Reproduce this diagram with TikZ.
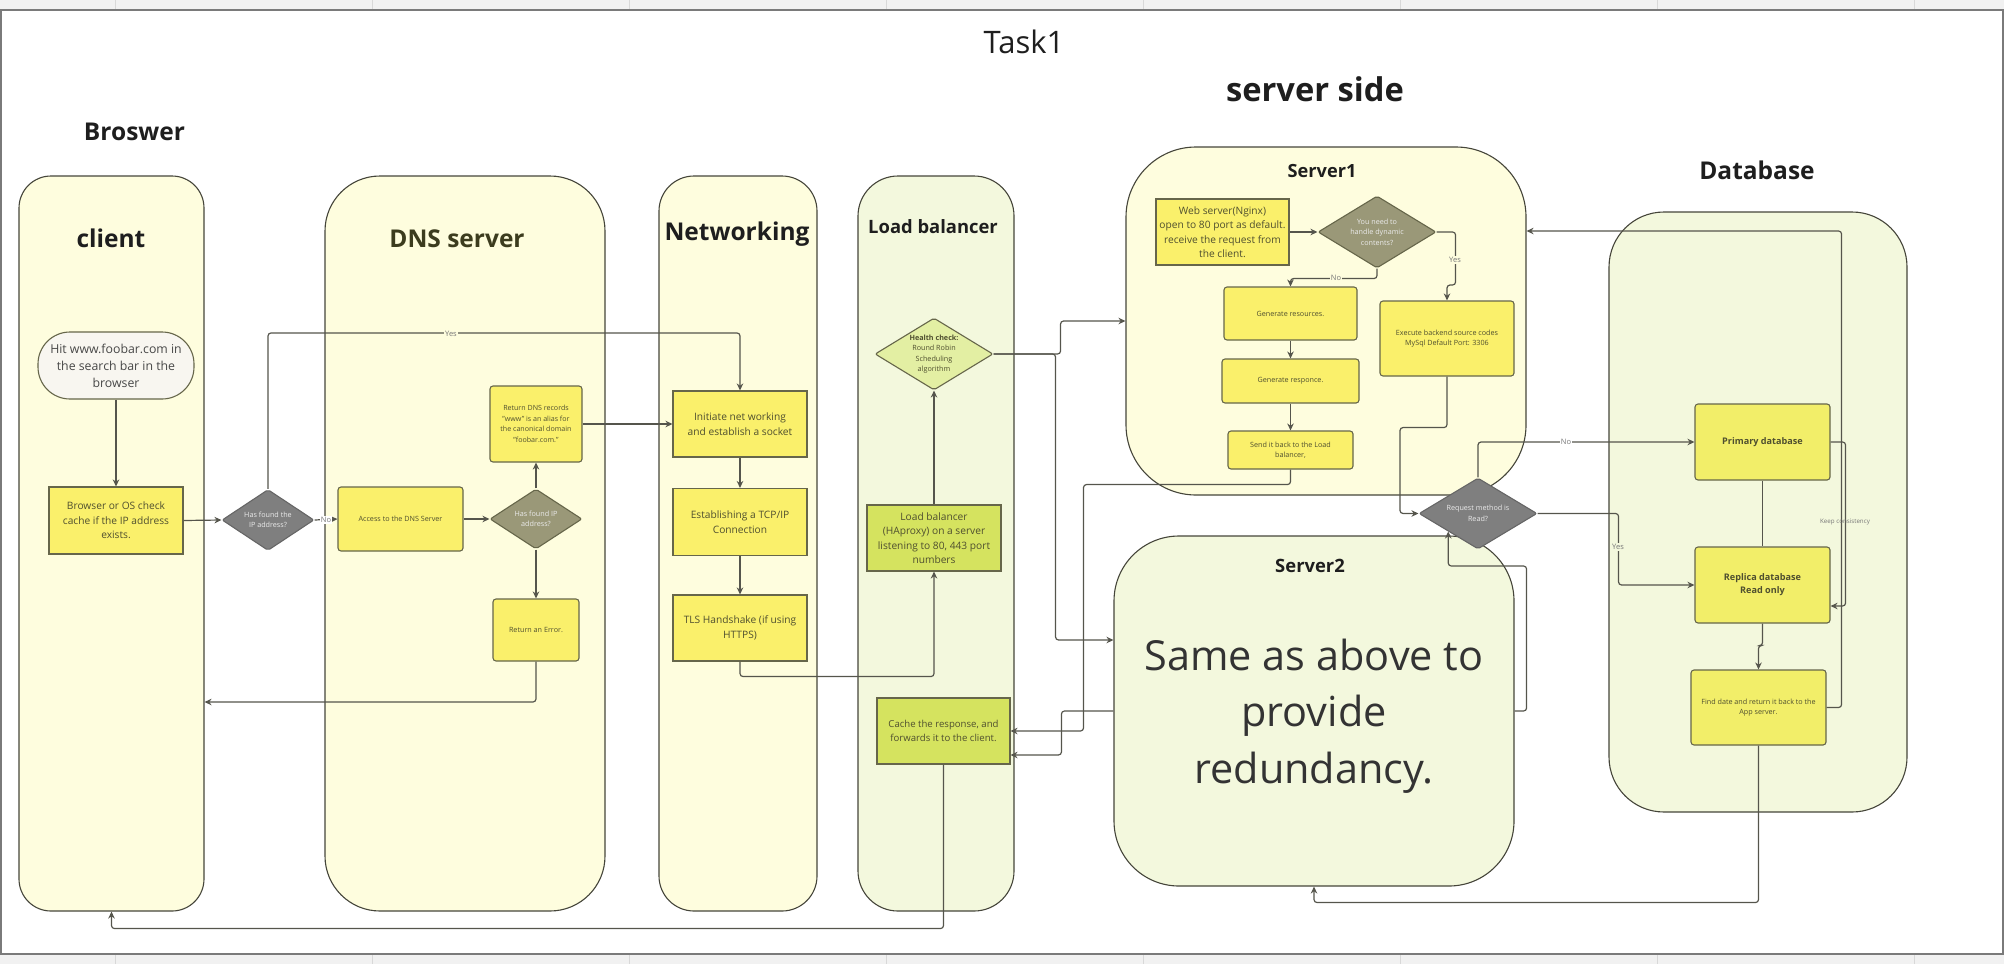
\documentclass[tikz,border=0pt]{standalone}
\usepackage{fontspec}
\setmainfont{Open Sans}
\usetikzlibrary{arrows.meta,shapes.geometric}
\definecolor{paley}{HTML}{FEFDDE}
\definecolor{paleg}{HTML}{F3F8DD}
\definecolor{ybox}{HTML}{FAF06B}
\definecolor{dbbox}{HTML}{F2EE69}
\definecolor{gbox}{HTML}{D5E35F}
\definecolor{hcbox}{HTML}{E3EFA3}
\definecolor{hitc}{HTML}{F8F6F0}
\definecolor{dgray}{HTML}{7F7F7F}
\definecolor{ogray}{HTML}{9A9878}
\definecolor{lanec}{HTML}{45453A}
\definecolor{boxc}{HTML}{66664A}
\definecolor{boxt}{HTML}{4F4F2F}
\definecolor{titc}{HTML}{1E1E1E}
\definecolor{dnst}{HTML}{3C3C1E}
\definecolor{arrc}{HTML}{55554C}
\definecolor{lblc}{HTML}{777777}
\definecolor{stripc}{HTML}{F1F1F1}
\definecolor{sepc}{HTML}{D8D8D8}
\definecolor{framec}{HTML}{7A7A7A}
\tikzset{
  lane/.style={draw=lanec, line width=1.1pt},
  ttl/.style={font=\bfseries\fontsize{24.5}{30}\selectfont, text=titc, inner sep=0pt, anchor=base},
  box/.style={draw=boxc, line width=1.1pt, fill=ybox, text=boxt, align=center, inner sep=1pt},
  rbox/.style={box, rounded corners=3pt},
  midtxt/.style={font=\fontsize{10.2}{14.4}\selectfont},
  smalltxt/.style={font=\fontsize{7.2}{10.5}\selectfont},
  dia/.style={diamond, draw=boxc, line width=1.1pt, inner sep=0pt, rounded corners=2pt},
  dtxt/.style={font=\fontsize{7.2}{10.5}\selectfont, text=white!92!black, align=center},
  arr/.style={draw=arrc, line width=1.2pt, -{Stealth[length=7pt,width=6.5pt]}, rounded corners=3pt},
  lnk/.style={draw=arrc, line width=1.2pt},
  lbl/.style={font=\fontsize{7.5}{9}\selectfont, text=lblc, inner sep=1pt},
}
\begin{document}
\begin{tikzpicture}[x=1pt,y=-1pt]
\useasboundingbox (0,0) rectangle (2004,964);
% surrounding strips
\fill[stripc] (0,0) rectangle (2004,10);
\fill[stripc] (0,954) rectangle (2004,964);
\foreach \i in {0,...,7} {
  \draw[sepc, line width=1pt] (115+257*\i,0) -- (115+257*\i,9);
  \draw[sepc, line width=1pt] (115+257*\i,955) -- (115+257*\i,964);
}
\draw[framec, line width=2pt] (1,10) rectangle (2003,954);

% headings
\node[font=\fontsize{31}{36}\selectfont, text=titc, inner sep=0pt, anchor=base] (task) at (1024,53) {Task1};
\node[ttl, font=\bfseries\fontsize{32.7}{38}\selectfont] (sside) at (1315,101) {server side};
\node[ttl] (tbros) at (134.5,140) {Broswer};
\node[ttl] (tdb) at (1757,179) {Database};

% lanes
\node[lane, fill=paley, minimum width=185pt, minimum height=735pt, rounded corners=32pt] (clane) at (111.5,543.5) {};
\node[lane, fill=paley, minimum width=280pt, minimum height=735pt, rounded corners=55pt] (dlane) at (465,543.5) {};
\node[lane, fill=paley, minimum width=158pt, minimum height=735pt, rounded corners=35pt] (nlane) at (738,543.5) {};
\node[lane, fill=paleg, minimum width=156pt, minimum height=735pt, rounded corners=40pt] (llane) at (936,543.5) {};
\node[lane, fill=paley, minimum width=400pt, minimum height=348pt, rounded corners=70pt] (s1) at (1326,321) {};
\node[lane, fill=paleg, minimum width=400pt, minimum height=350pt, rounded corners=65pt] (s2) at (1314,711) {};
\node[lane, fill=paleg, minimum width=298pt, minimum height=600pt, rounded corners=55pt] (dblane) at (1758,512) {};

% lane titles
\node[ttl] (tcli) at (111,247) {client};
\node[ttl, text=dnst] (tdns) at (457,247) {DNS server};
\node[ttl] (tnet) at (737,240) {Networking};
\node[ttl, font=\bfseries\fontsize{18.4}{22}\selectfont] (tlb) at (933,233) {Load balancer};
\node[ttl, font=\bfseries\fontsize{18.2}{22}\selectfont] (ts1) at (1322,177) {Server1};
\node[ttl, font=\bfseries\fontsize{18.4}{22}\selectfont] (ts2) at (1310,572) {Server2};
\node[font=\fontsize{41.4}{56.5}\selectfont, text=black!80, align=center, inner sep=0pt] (same) at (1314,716) {Same as above to\\provide\\redundancy.};

% browser / DNS nodes
\node[box, fill=hitc, rounded corners=32pt, minimum width=156pt, minimum height=67pt, text=black!72, font=\fontsize{12.3}{17}\selectfont] (hit) at (116,365.5) {Hit www.foobar.com in\\the search bar in the\\browser};
\node[box, midtxt, minimum width=134pt, minimum height=67pt] (chk) at (116,520.5) {Browser or OS check\\cache if the IP address\\exists.};
\node[dia, fill=dgray, draw=black!60, minimum width=92pt, minimum height=61pt, label={[dtxt]center:{Has found the\\IP address?}}] (d1) at (268,520) {};
\node[rbox, smalltxt, minimum width=125pt, minimum height=64pt] (acc) at (400.5,519) {Access to the DNS Server};
\node[dia, fill=ogray, minimum width=92pt, minimum height=60pt, label={[dtxt]center:{Has found IP\\address?}}] (d2) at (536,519) {};
\node[rbox, font=\fontsize{7.1}{10.5}\selectfont, minimum width=92pt, minimum height=76pt] (rdns) at (536,424) {Return DNS records\\"www" is an alias for\\the canonical domain\\"foobar.com."};
\node[rbox, smalltxt, minimum width=86pt, minimum height=62pt] (err) at (536,630) {Return an Error.};

% networking nodes
\node[box, midtxt, minimum width=134pt, minimum height=66pt] (init) at (740,424) {Initiate net working\\and establish a socket};
\node[box, midtxt, minimum width=134pt, minimum height=67pt] (est) at (740,522) {Establishing a TCP/IP\\Connection};
\node[box, midtxt, minimum width=134pt, minimum height=66pt] (tls) at (740,628) {TLS Handshake (if using\\HTTPS)};

% load balancer nodes
\node[dia, fill=hcbox, minimum width=118pt, minimum height=72pt, label={[dtxt, text=boxt]center:{\textbf{Health check:}\\Round Robin\\Scheduling\\algorithm}}] (hc) at (934,354) {};
\node[box, midtxt, fill=gbox, minimum width=134pt, minimum height=66pt] (lbn) at (934,538) {Load balancer\\(HAproxy) on a server\\listening to 80, 443 port\\numbers};
\node[box, fill=gbox, font=\fontsize{9.6}{13.5}\selectfont, minimum width=133pt, minimum height=66pt] (cache) at (943.5,731) {Cache the response, and\\forwards it to the client.};

% server1 nodes
\node[box, midtxt, minimum width=133pt, minimum height=66pt] (web) at (1222.5,232) {Web server(Nginx)\\open to 80 port as default.\\receive the request from\\the client.};
\node[dia, fill=ogray, minimum width=118pt, minimum height=72pt, label={[dtxt]center:{You need to\\handle dynamic\\contents?}}] (d3) at (1377,232) {};
\node[rbox, smalltxt, minimum width=133pt, minimum height=53pt] (genres) at (1290.5,313.5) {Generate resources.};
\node[rbox, smalltxt, minimum width=137pt, minimum height=44pt] (genresp) at (1290.5,381) {Generate responce.};
\node[rbox, smalltxt, minimum width=125pt, minimum height=38pt] (send) at (1290.5,450) {Send it back to the Load\\balancer,};
\node[rbox, smalltxt, minimum width=134pt, minimum height=75pt] (exe) at (1447,338.5) {Execute backend source codes\\MySql Default Port: 3306};
\node[dia, fill=dgray, draw=black!60, minimum width=118pt, minimum height=71pt, label={[dtxt]center:{Request method is\\Read?}}] (req) at (1478,513.5) {};

% database nodes
\node[rbox, fill=dbbox, font=\bfseries\fontsize{9.1}{13}\selectfont, minimum width=135pt, minimum height=76pt] (prim) at (1762.5,442) {Primary database};
\node[rbox, fill=dbbox, font=\bfseries\fontsize{9.1}{13}\selectfont, minimum width=135pt, minimum height=76pt] (rep) at (1762.5,585) {Replica database\\Read only};
\node[rbox, fill=dbbox, smalltxt, minimum width=135pt, minimum height=75pt] (fd) at (1758.5,707.5) {Find date and return it back to the\\App server.};

% connectors: browser / DNS
\draw[arr] (hit.south) -- (chk.north);
\draw[arr] (chk.east) -- (d1.west);
\draw[arr] (d1.east) -- (acc.west);
\draw[arr] (acc.east) -- (d2.west);
\draw[arr] (d2.north) -- (rdns.south);
\draw[arr] (d2.south) -- (err.north);
\draw[arr] (rdns.east) -- (init.west);
\draw[arr] (d1.north) -- ++(0,-156) -| (init.north);
\draw[arr] (err.south) |- ([yshift=-158.5pt]clane.east);
% networking
\draw[arr] (init.south) -- (est.north);
\draw[arr] (est.south) -- (tls.north);
\draw[arr] (tls.south) -- ++(0,15) -| (lbn.south);
% load balancer
\draw[arr] (lbn.north) -- (hc.south);
\draw[arr] (hc.east) -- ++(67,0) |- (s1.west);
\draw[arr] (hc.east) -- ++(62,0) |- ([yshift=71pt]s2.west);
\draw[arr] (send.south) -- ++(0,15) -- ++(-207,0) |- (cache.east);
\draw[arr] (s2.west) -- ++(-52,0) |- ([yshift=-24pt]cache.east);
\draw[arr] (cache.south) -- ++(0,164) -| (clane.south);
% server1
\draw[arr] (web.east) -- (d3.west);
\draw[arr] (d3.south) -- ++(0,10) -| (genres.north);
\draw[arr] (d3.east) -- ++(19,0) -- ++(0,53) -| (exe.north);
\draw[arr] (genres.south) -- (genresp.north);
\draw[arr] (genresp.south) -- (send.north);
\draw[arr] (exe.south) -- ++(0,51) -- ++(-47,0) |- (req.west);
% request / database
\draw[arr] (req.north) |- (prim.west);
\draw[arr] (req.east) -- ++(81,0) |- (rep.west);
\draw[lnk] (prim.south) -- (rep.north);
\draw[arr] (prim.east) -- ++(15,0) |- ([yshift=-21pt]rep.east);
\draw[arr] (rep.south) -- ++(0,22) -| (fd.north);
\draw[arr] (fd.east) -- ++(15,0) |- ([yshift=90pt]s1.east);
\draw[arr] (fd.south) -- ++(0,157) -| (s2.south);
\draw[arr] (s2.east) -- ++(12,0) -- ++(0,-145) -| (req.south west);

% labels
\node[lbl, fill=paley] (lyes1) at (451,334) {Yes};
\node[lbl, fill=white] (lno1) at (326,520) {No};
\node[lbl, fill=paley] (lno2) at (1336,278) {No};
\node[lbl, fill=paley] (lyes2) at (1455,260) {Yes};
\node[lbl, fill=white] (lno3) at (1566,442) {No};
\node[lbl, fill=paleg] (lyes3) at (1618,547) {Yes};
\node[lbl, font=\fontsize{6.2}{8}\selectfont] (lkeep) at (1845,522) {Keep consistency};
\end{tikzpicture}
\end{document}
